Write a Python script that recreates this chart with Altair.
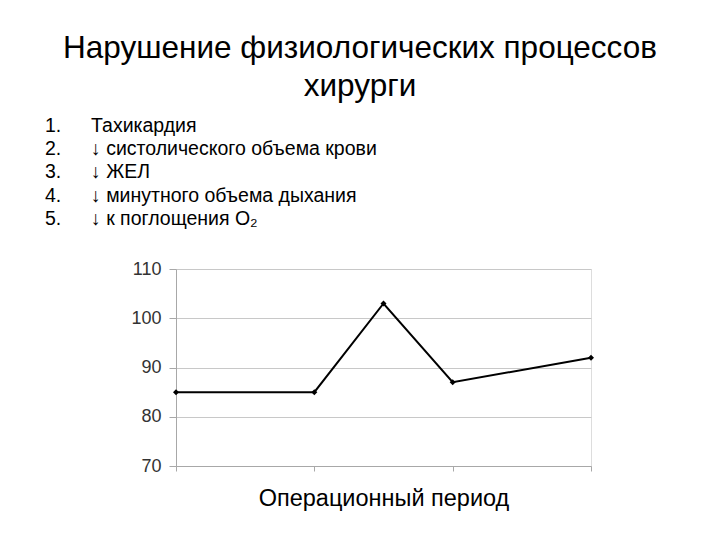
import altair as alt
import pandas as pd

# data
x_pos = [0, 1, 1.5, 2, 3]
values = [85, 85, 103, 87, 92]
title_lines = ["Нарушение физиологических процессов", "хирурги"]
list_nums = ["1.", "2.", "3.", "4.", "5."]
list_items = [
    "Тахикардия",
    "↓ систолического объема крови",
    "↓ ЖЕЛ",
    "↓ минутного объема дыхания",
    "↓ к поглощения O₂",
]
y_ticks = [70, 80, 90, 100, 110]
x_title = "Операционный период"

FONT = "Liberation Sans"

df = pd.DataFrame({"x": x_pos, "v": values})
list_df = pd.DataFrame({"i": list(range(len(list_items))), "num": list_nums, "item": list_items})
title_df = pd.DataFrame({"i": list(range(len(title_lines))), "t": title_lines})

W, H = 415, 197

xscale = alt.Scale(domain=[0, 3], nice=False, zero=False)
yscale = alt.Scale(domain=[70, 110], nice=False, zero=False)

base = alt.Chart(df)

line = base.mark_line(color="black", strokeWidth=2).encode(
    x=alt.X("x:Q", scale=xscale, axis=alt.Axis(
        values=[0, 1, 2, 3], labels=False, grid=False, domainColor="#a8a8a8",
        tickColor="#a8a8a8", tickSize=5, title=x_title, titleFont=FONT,
        titleFontSize=23.5, titleFontWeight="normal", titleColor="black",
        titlePadding=15)),
    y=alt.Y("v:Q", scale=yscale, axis=alt.Axis(
        values=y_ticks, grid=True, gridColor="#c8c8c8", domainColor="#a8a8a8",
        tickColor="#a8a8a8", tickSize=7, labelFont=FONT, labelFontSize=18,
        labelColor="#333333", labelPadding=8, title=None)),
)
pts = base.mark_point(shape="diamond", filled=True, color="black", size=36, opacity=1).encode(
    x=alt.X("x:Q", scale=xscale), y=alt.Y("v:Q", scale=yscale)
)

titles = alt.Chart(title_df).transform_calculate(
    py="-211 + datum.i * 38"
).mark_text(font=FONT, fontSize=31.5, align="center", baseline="alphabetic", color="black").encode(
    x=alt.value(184), y=alt.Y("py:Q", scale=None), text="t:N"
)

nums = alt.Chart(list_df).transform_calculate(
    py="-137 + datum.i * 23.2"
).mark_text(font=FONT, fontSize=19.5, align="left", baseline="alphabetic", color="black").encode(
    x=alt.value(-131), y=alt.Y("py:Q", scale=None), text="num:N"
)
items = alt.Chart(list_df).transform_calculate(
    py="-137 + datum.i * 23.2"
).mark_text(font=FONT, fontSize=19.5, align="left", baseline="alphabetic", color="black").encode(
    x=alt.value(-85), y=alt.Y("py:Q", scale=None), text="item:N"
)

chart = alt.layer(line, pts, titles, nums, items).properties(
    width=W, height=H,
    autosize=alt.AutoSizeParams(type="none"),
    padding={"left": 168, "top": 261, "right": 121, "bottom": 66},
).configure_view(stroke=None).configure(background="white")

chart.save("out.html", embed_options={"renderer": "svg", "actions": False})
